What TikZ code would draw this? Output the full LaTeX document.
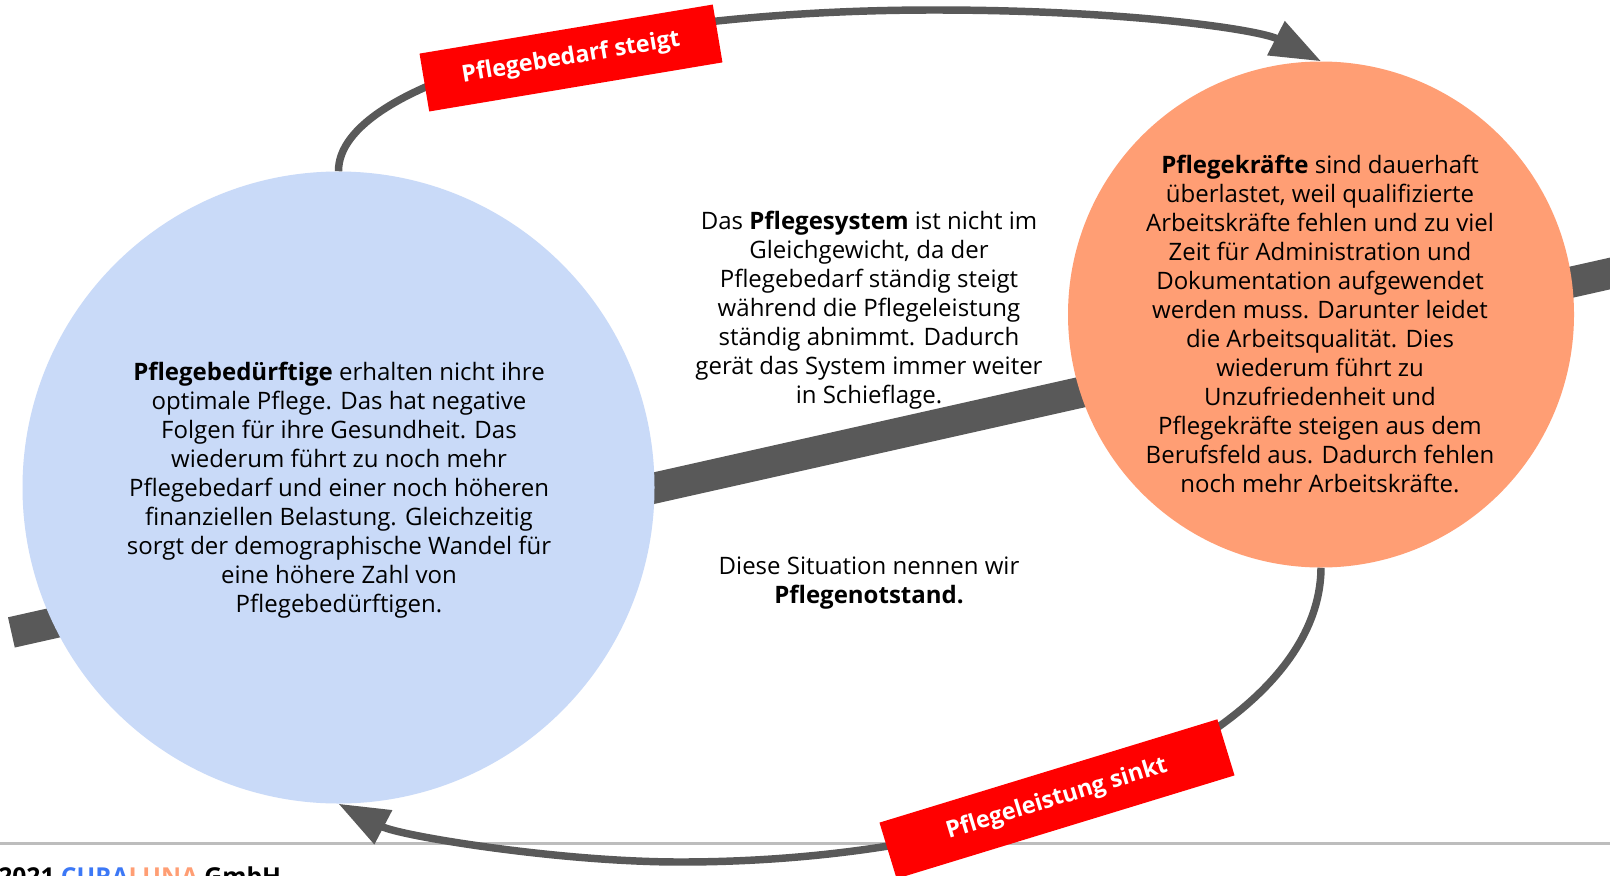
\documentclass[tikz,border=0pt]{standalone}
\usepackage{fontspec}
\setmainfont{Open Sans}
\usetikzlibrary{arrows.meta}
\definecolor{bluefill}{HTML}{C9DAF8}
\definecolor{orangefill}{HTML}{FF9E74}
\definecolor{darkline}{HTML}{595959}
\definecolor{labelred}{HTML}{FF0000}
\definecolor{footgray}{HTML}{BDBDBD}
\definecolor{curablue}{HTML}{3C78F6}
\begin{document}
\begin{tikzpicture}[x=0.75pt,y=-0.75pt,
  bodytext/.style={align=center, font=\fontsize{18}{21.7}\selectfont, inner sep=0},
  tag/.style={fill=labelred, text=white, font=\fontsize{17.5}{20}\selectfont\bfseries, inner sep=0, minimum height=44pt},
  loopline/.style={draw=darkline, line width=5.6pt, -{Triangle[length=38pt,width=27.5pt]}},
  disc/.style={circle, inner sep=0}
  ]
\clip (0,0) rectangle (1610,875);
\fill[white] (0,0) rectangle (1610,875);
\coordinate (barL) at (11.4,632.4);
\coordinate (barR) at (1650,264.5);
\draw[darkline, line width=23.25pt] (barL) -- (barR);
\coordinate (footL) at (0,843);
\coordinate (footR) at (1610,843);
\draw[footgray, line width=2.25pt] (footL) -- (footR);
\node[disc, fill=bluefill, minimum size=474pt] (blue) at (338.5,487.5) {};
\node[disc, fill=orangefill, minimum size=379.5pt] (orange) at (1321,314.5) {};
\draw[loopline] (blue.north) .. controls (338,82) and (605,10) .. (934,10) .. controls (1130,10) and (1260,30) .. (orange.north);
\draw[loopline] (orange.south) .. controls (1320,730) and (1033,862) .. (680,862) .. controls (560,862) and (400,836) .. (blue.south);
\node[tag, minimum width=223pt, rotate=9.5] (up) at (571,58) {Pflegebedarf steigt};
\node[tag, minimum width=265pt, rotate=17] (down) at (1057,799) {Pflegeleistung sinkt};
\node[bodytext] (bluetext) at (339,490) {\textbf{Pflegebedürftige} erhalten nicht ihre\\optimale Pflege. Das hat negative\\Folgen für ihre Gesundheit. Das\\wiederum führt zu noch mehr\\Pflegebedarf und einer noch höheren\\finanziellen Belastung. Gleichzeitig\\sorgt der demographische Wandel für\\eine höhere Zahl von\\Pflegebedürftigen.};
\node[bodytext] (orangetext) at (1320,324) {\textbf{Pflegekräfte} sind dauerhaft\\überlastet, weil qualifizierte\\Arbeitskräfte fehlen und zu viel\\Zeit für Administration und\\Dokumentation aufgewendet\\werden muss. Darunter leidet\\die Arbeitsqualität. Dies\\wiederum führt zu\\Unzufriedenheit und\\Pflegekräfte steigen aus dem\\Berufsfeld aus. Dadurch fehlen\\noch mehr Arbeitskräfte.};
\node[bodytext] (midtext) at (869,310) {Das \textbf{Pflegesystem} ist nicht im\\Gleichgewicht, da der\\Pflegebedarf ständig steigt\\während die Pflegeleistung\\ständig abnimmt. Dadurch\\gerät das System immer weiter\\in Schieflage.};
\node[bodytext] (lowtext) at (869,583) {Diese Situation nennen wir\\\textbf{Pflegenotstand.}};
\node[anchor=base west, inner sep=0, font=\fontsize{18.5}{20}\selectfont\bfseries] (foot) at (-2,885) {2021 \textcolor{curablue}{CURA}\textcolor{orangefill}{LUNA} GmbH};
\end{tikzpicture}
\end{document}
